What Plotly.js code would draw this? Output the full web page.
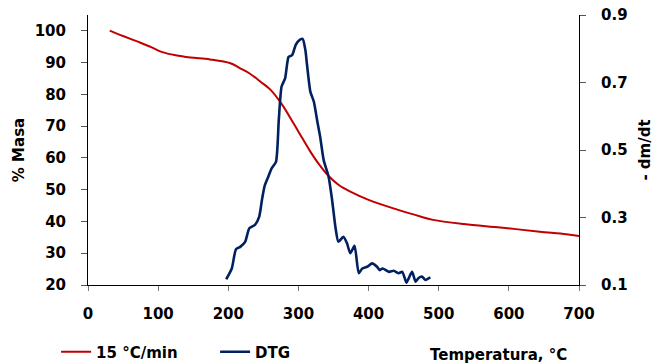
<!DOCTYPE html>
<html>
<head>
<meta charset="utf-8">
<script src="https://cdn.plot.ly/plotly-3.0.1.min.js"></script>
<style>html,body{margin:0;padding:0;background:#fff;}#chart{width:654px;height:364px;}</style>
</head>
<body>
<div id="chart"></div>
<script>
// Mass loss curve (15 °C/min)
const massT = [31, 50, 71, 90, 105, 125, 146, 174, 203, 217, 231, 246, 260, 276, 293, 305, 317, 330, 343, 358, 374, 400, 440, 475, 492, 536, 588, 644, 682, 700];
const massV = [100.1, 98.4, 96.6, 94.9, 93.4, 92.3, 91.6, 91.0, 89.8, 88.2, 86.5, 84.0, 81.5, 77.0, 70.9, 66.4, 62.0, 57.8, 54.3, 51.4, 49.4, 46.8, 43.8, 41.5, 40.5, 39.2, 38.1, 36.8, 36.0, 35.4];
// DTG curve (-dm/dt)
const dtgT = [197, 205, 211, 217, 224, 230, 238, 244, 248, 252, 257, 262, 268, 272, 276, 281, 286, 291, 296, 300, 306, 310, 312, 317, 322, 327, 331, 336, 343, 348, 353, 357, 364, 369, 374, 380, 386, 391, 398, 405, 412, 416, 420, 429, 436, 443, 448, 454, 457, 462, 467, 471, 476, 481, 488];
const dtgV = [0.117, 0.149, 0.206, 0.213, 0.228, 0.268, 0.278, 0.302, 0.352, 0.395, 0.421, 0.446, 0.465, 0.589, 0.688, 0.712, 0.776, 0.781, 0.811, 0.823, 0.829, 0.795, 0.757, 0.673, 0.643, 0.584, 0.539, 0.470, 0.421, 0.352, 0.268, 0.228, 0.243, 0.225, 0.194, 0.216, 0.135, 0.149, 0.154, 0.164, 0.154, 0.144, 0.149, 0.139, 0.142, 0.135, 0.139, 0.107, 0.119, 0.139, 0.110, 0.120, 0.125, 0.115, 0.123];
const xTicks = [0, 100, 200, 300, 400, 500, 600, 700];
const yTicks = [20, 30, 40, 50, 60, 70, 80, 90, 100];
const y2Ticks = [0.1, 0.3, 0.5, 0.7, 0.9];

const F = '"DejaVu Sans", sans-serif';
const TF = {family: F, size: 15, color: '#000', weight: 'bold'};
const traces = [
  {x: massT, y: massV, type: 'scatter', mode: 'lines', name: '15 °C/min',
   line: {color: '#C00000', width: 2, shape: 'spline', smoothing: 1}, yaxis: 'y'},
  {x: dtgT, y: dtgV, type: 'scatter', mode: 'lines', name: 'DTG',
   line: {color: '#002060', width: 2.6, shape: 'spline', smoothing: 0.6}, yaxis: 'y2'}
];
const layout = {
  width: 654, height: 364,
  margin: {l: 88, r: 75, t: 15, b: 79, autoexpand: false},
  paper_bgcolor: '#fff', plot_bgcolor: '#fff',
  font: TF,
  showlegend: true,
  legend: {orientation: 'h', x: -0.065, xanchor: 'left', y: -0.248, yanchor: 'middle',
    font: TF, entrywidthmode: 'pixels', entrywidth: 114, tracegroupgap: 0, bgcolor: 'rgba(0,0,0,0)'},
  xaxis: {range: [0, 700], tickvals: xTicks, ticktext: xTicks.map(String), showgrid: false, zeroline: false,
    showline: true, linecolor: '#000', linewidth: 1, ticks: 'outside', ticklen: 5, tickcolor: '#777',
    tickfont: TF, ticklabelstandoff: 10},
  yaxis: {range: [20, 105], tickvals: yTicks, ticktext: yTicks.map(String), showgrid: false, zeroline: false,
    showline: true, linecolor: '#000', linewidth: 1, ticks: 'outside', ticklen: 6, tickcolor: '#555',
    tickfont: TF, ticklabelstandoff: 12,
    title: {text: '% Masa', font: TF, standoff: 6}},
  yaxis2: {range: [0.1, 0.9], overlaying: 'y', side: 'right', tickvals: y2Ticks, ticktext: y2Ticks.map(v => v.toFixed(1)),
    showgrid: false, zeroline: false, showline: true, linecolor: '#000', linewidth: 1, ticks: 'outside', ticklen: 6, tickcolor: '#555',
    tickfont: TF, ticklabelstandoff: 12,
    title: {text: '- dm/dt', font: TF, standoff: 14}},
  annotations: [
    {text: 'Temperatura, °C', xref: 'paper', yref: 'paper', x: 0.837, y: -0.259, xanchor: 'center', yanchor: 'middle',
     showarrow: false, font: TF}
  ]
};
Plotly.newPlot('chart', traces, layout, {staticPlot: true, displayModeBar: false});
</script>
</body>
</html>
